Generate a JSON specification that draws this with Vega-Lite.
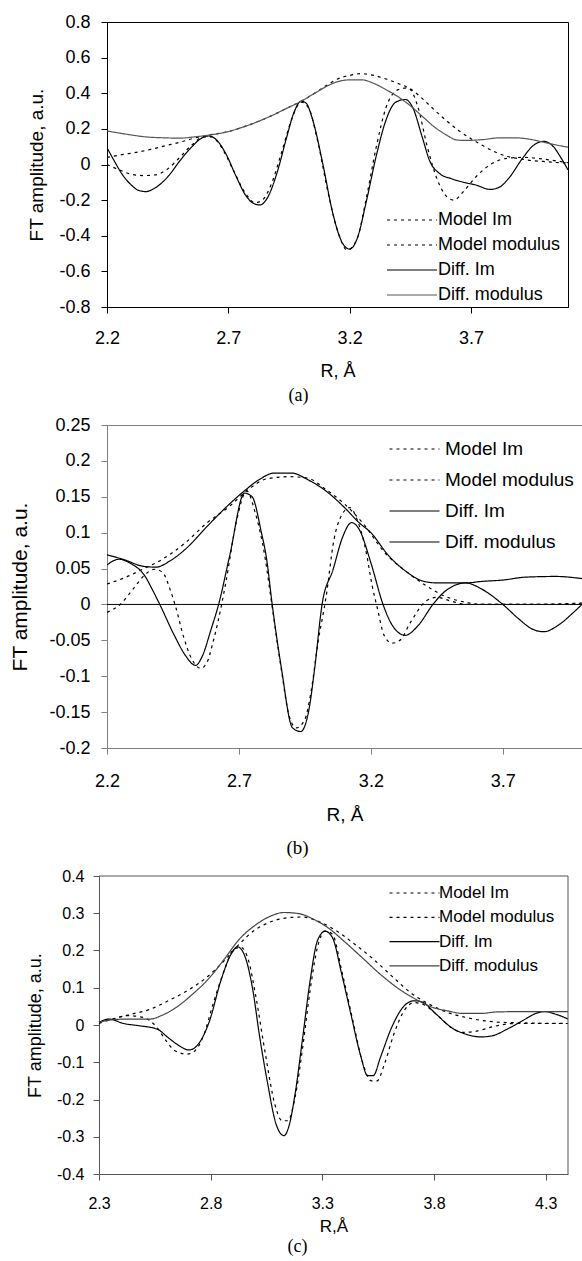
{
"$schema": "https://vega.github.io/schema/vega-lite/v6.json",
"padding": {"left": 9, "top": 12, "right": 0, "bottom": 0},
"spacing": 9,
"resolve": {"scale": {"color": "independent", "strokeDash": "independent"}, "legend": {"color": "independent", "strokeDash": "independent"}},
"config": {
  "font": "Liberation Sans",
  "axis": {"grid": false, "labelFont": "Liberation Sans", "titleFont": "Liberation Sans", "labelColor": "#000", "titleColor": "#000", "titleFontWeight": "normal", "tickColor": "#000", "domainColor": "#000", "tickSize": 6, "labelFlush": false, "labelOverlap": false}
},
"vconcat": [
{
  "width": 461, "height": 285,
  "view": {"stroke": "#000"},
  "title": {"text": "(a)", "orient": "bottom", "font": "Liberation Serif", "fontSize": 18, "fontWeight": "normal", "color": "#000", "anchor": "middle", "offset": 7, "dx": -39},
  "data": {"values": [
    {"r":2.20,"v":0.0,"s":"Model Im"},{"r":2.25,"v":-0.03,"s":"Model Im"},{"r":2.30,"v":-0.055,"s":"Model Im"},{"r":2.35,"v":-0.062,"s":"Model Im"},{"r":2.40,"v":-0.058,"s":"Model Im"},{"r":2.45,"v":-0.025,"s":"Model Im"},{"r":2.50,"v":0.04,"s":"Model Im"},{"r":2.55,"v":0.11,"s":"Model Im"},{"r":2.60,"v":0.155,"s":"Model Im"},{"r":2.63,"v":0.155,"s":"Model Im"},{"r":2.67,"v":0.1,"s":"Model Im"},{"r":2.72,"v":-0.03,"s":"Model Im"},{"r":2.77,"v":-0.16,"s":"Model Im"},{"r":2.81,"v":-0.215,"s":"Model Im"},{"r":2.84,"v":-0.2,"s":"Model Im"},{"r":2.88,"v":-0.1,"s":"Model Im"},{"r":2.92,"v":0.07,"s":"Model Im"},{"r":2.96,"v":0.25,"s":"Model Im"},{"r":3.00,"v":0.35,"s":"Model Im"},{"r":3.03,"v":0.32,"s":"Model Im"},{"r":3.07,"v":0.12,"s":"Model Im"},{"r":3.11,"v":-0.15,"s":"Model Im"},{"r":3.15,"v":-0.37,"s":"Model Im"},{"r":3.19,"v":-0.48,"s":"Model Im"},{"r":3.23,"v":-0.42,"s":"Model Im"},{"r":3.27,"v":-0.18,"s":"Model Im"},{"r":3.31,"v":0.1,"s":"Model Im"},{"r":3.35,"v":0.32,"s":"Model Im"},{"r":3.40,"v":0.42,"s":"Model Im"},{"r":3.44,"v":0.43,"s":"Model Im"},{"r":3.48,"v":0.33,"s":"Model Im"},{"r":3.52,"v":0.1,"s":"Model Im"},{"r":3.56,"v":-0.08,"s":"Model Im"},{"r":3.60,"v":-0.18,"s":"Model Im"},{"r":3.63,"v":-0.2,"s":"Model Im"},{"r":3.67,"v":-0.15,"s":"Model Im"},{"r":3.72,"v":-0.07,"s":"Model Im"},{"r":3.78,"v":0.0,"s":"Model Im"},{"r":3.85,"v":0.035,"s":"Model Im"},{"r":3.92,"v":0.04,"s":"Model Im"},{"r":4.00,"v":0.03,"s":"Model Im"},{"r":4.10,"v":0.01,"s":"Model Im"},
    {"r":2.20,"v":0.04,"s":"Model modulus"},{"r":2.26,"v":0.055,"s":"Model modulus"},{"r":2.32,"v":0.068,"s":"Model modulus"},{"r":2.38,"v":0.085,"s":"Model modulus"},{"r":2.44,"v":0.105,"s":"Model modulus"},{"r":2.50,"v":0.125,"s":"Model modulus"},{"r":2.56,"v":0.148,"s":"Model modulus"},{"r":2.62,"v":0.165,"s":"Model modulus"},{"r":2.70,"v":0.185,"s":"Model modulus"},{"r":2.76,"v":0.21,"s":"Model modulus"},{"r":2.82,"v":0.24,"s":"Model modulus"},{"r":2.88,"v":0.275,"s":"Model modulus"},{"r":2.94,"v":0.315,"s":"Model modulus"},{"r":3.00,"v":0.355,"s":"Model modulus"},{"r":3.05,"v":0.395,"s":"Model modulus"},{"r":3.10,"v":0.44,"s":"Model modulus"},{"r":3.15,"v":0.48,"s":"Model modulus"},{"r":3.20,"v":0.5,"s":"Model modulus"},{"r":3.25,"v":0.51,"s":"Model modulus"},{"r":3.30,"v":0.5,"s":"Model modulus"},{"r":3.35,"v":0.48,"s":"Model modulus"},{"r":3.40,"v":0.455,"s":"Model modulus"},{"r":3.45,"v":0.425,"s":"Model modulus"},{"r":3.50,"v":0.37,"s":"Model modulus"},{"r":3.55,"v":0.305,"s":"Model modulus"},{"r":3.60,"v":0.245,"s":"Model modulus"},{"r":3.65,"v":0.19,"s":"Model modulus"},{"r":3.70,"v":0.145,"s":"Model modulus"},{"r":3.75,"v":0.105,"s":"Model modulus"},{"r":3.80,"v":0.07,"s":"Model modulus"},{"r":3.85,"v":0.045,"s":"Model modulus"},{"r":3.90,"v":0.032,"s":"Model modulus"},{"r":3.95,"v":0.022,"s":"Model modulus"},{"r":4.00,"v":0.017,"s":"Model modulus"},{"r":4.05,"v":0.012,"s":"Model modulus"},{"r":4.10,"v":0.008,"s":"Model modulus"},
    {"r":2.20,"v":0.094,"s":"Diff. Im"},{"r":2.23,"v":0.02,"s":"Diff. Im"},{"r":2.26,"v":-0.05,"s":"Diff. Im"},{"r":2.30,"v":-0.115,"s":"Diff. Im"},{"r":2.33,"v":-0.145,"s":"Diff. Im"},{"r":2.36,"v":-0.152,"s":"Diff. Im"},{"r":2.40,"v":-0.13,"s":"Diff. Im"},{"r":2.45,"v":-0.07,"s":"Diff. Im"},{"r":2.50,"v":0.02,"s":"Diff. Im"},{"r":2.55,"v":0.1,"s":"Diff. Im"},{"r":2.59,"v":0.148,"s":"Diff. Im"},{"r":2.62,"v":0.16,"s":"Diff. Im"},{"r":2.65,"v":0.14,"s":"Diff. Im"},{"r":2.69,"v":0.06,"s":"Diff. Im"},{"r":2.73,"v":-0.06,"s":"Diff. Im"},{"r":2.77,"v":-0.17,"s":"Diff. Im"},{"r":2.80,"v":-0.215,"s":"Diff. Im"},{"r":2.83,"v":-0.227,"s":"Diff. Im"},{"r":2.86,"v":-0.19,"s":"Diff. Im"},{"r":2.90,"v":-0.05,"s":"Diff. Im"},{"r":2.94,"v":0.15,"s":"Diff. Im"},{"r":2.97,"v":0.29,"s":"Diff. Im"},{"r":3.00,"v":0.355,"s":"Diff. Im"},{"r":3.02,"v":0.345,"s":"Diff. Im"},{"r":3.05,"v":0.24,"s":"Diff. Im"},{"r":3.09,"v":0.0,"s":"Diff. Im"},{"r":3.13,"v":-0.27,"s":"Diff. Im"},{"r":3.17,"v":-0.44,"s":"Diff. Im"},{"r":3.20,"v":-0.475,"s":"Diff. Im"},{"r":3.23,"v":-0.42,"s":"Diff. Im"},{"r":3.27,"v":-0.2,"s":"Diff. Im"},{"r":3.31,"v":0.05,"s":"Diff. Im"},{"r":3.35,"v":0.25,"s":"Diff. Im"},{"r":3.39,"v":0.35,"s":"Diff. Im"},{"r":3.43,"v":0.365,"s":"Diff. Im"},{"r":3.46,"v":0.32,"s":"Diff. Im"},{"r":3.50,"v":0.15,"s":"Diff. Im"},{"r":3.53,"v":0.02,"s":"Diff. Im"},{"r":3.57,"v":-0.05,"s":"Diff. Im"},{"r":3.62,"v":-0.08,"s":"Diff. Im"},{"r":3.67,"v":-0.1,"s":"Diff. Im"},{"r":3.72,"v":-0.115,"s":"Diff. Im"},{"r":3.78,"v":-0.14,"s":"Diff. Im"},{"r":3.82,"v":-0.125,"s":"Diff. Im"},{"r":3.86,"v":-0.07,"s":"Diff. Im"},{"r":3.91,"v":0.03,"s":"Diff. Im"},{"r":3.96,"v":0.11,"s":"Diff. Im"},{"r":4.00,"v":0.13,"s":"Diff. Im"},{"r":4.04,"v":0.1,"s":"Diff. Im"},{"r":4.07,"v":0.04,"s":"Diff. Im"},{"r":4.10,"v":-0.03,"s":"Diff. Im"},
    {"r":2.20,"v":0.188,"s":"Diff. modulus"},{"r":2.28,"v":0.17,"s":"Diff. modulus"},{"r":2.36,"v":0.155,"s":"Diff. modulus"},{"r":2.43,"v":0.15,"s":"Diff. modulus"},{"r":2.50,"v":0.148,"s":"Diff. modulus"},{"r":2.56,"v":0.155,"s":"Diff. modulus"},{"r":2.62,"v":0.165,"s":"Diff. modulus"},{"r":2.70,"v":0.185,"s":"Diff. modulus"},{"r":2.76,"v":0.21,"s":"Diff. modulus"},{"r":2.82,"v":0.24,"s":"Diff. modulus"},{"r":2.88,"v":0.275,"s":"Diff. modulus"},{"r":2.94,"v":0.315,"s":"Diff. modulus"},{"r":3.00,"v":0.355,"s":"Diff. modulus"},{"r":3.05,"v":0.395,"s":"Diff. modulus"},{"r":3.10,"v":0.435,"s":"Diff. modulus"},{"r":3.15,"v":0.465,"s":"Diff. modulus"},{"r":3.20,"v":0.475,"s":"Diff. modulus"},{"r":3.25,"v":0.475,"s":"Diff. modulus"},{"r":3.30,"v":0.455,"s":"Diff. modulus"},{"r":3.35,"v":0.42,"s":"Diff. modulus"},{"r":3.40,"v":0.38,"s":"Diff. modulus"},{"r":3.45,"v":0.33,"s":"Diff. modulus"},{"r":3.50,"v":0.27,"s":"Diff. modulus"},{"r":3.55,"v":0.21,"s":"Diff. modulus"},{"r":3.60,"v":0.165,"s":"Diff. modulus"},{"r":3.64,"v":0.138,"s":"Diff. modulus"},{"r":3.68,"v":0.135,"s":"Diff. modulus"},{"r":3.75,"v":0.14,"s":"Diff. modulus"},{"r":3.82,"v":0.15,"s":"Diff. modulus"},{"r":3.88,"v":0.15,"s":"Diff. modulus"},{"r":3.95,"v":0.14,"s":"Diff. modulus"},{"r":4.00,"v":0.125,"s":"Diff. modulus"},{"r":4.05,"v":0.11,"s":"Diff. modulus"},{"r":4.10,"v":0.097,"s":"Diff. modulus"}
  ]},
  "mark": {"type": "line", "interpolate": "monotone", "strokeWidth": 1.2, "clip": true},
  "encoding": {
    "x": {"field": "r", "type": "quantitative", "scale": {"domain": [2.2, 4.1], "nice": false, "zero": false},
          "axis": {"values": [2.2, 2.7, 3.2, 3.7], "labelExpr": "'' + datum.value", "title": "R, Å", "titleFontSize": 18, "labelFontSize": 18, "labelPadding": 16, "titlePadding": 15, "labelOverlap": false}},
    "y": {"field": "v", "type": "quantitative", "scale": {"domain": [-0.8, 0.8], "nice": false},
          "axis": {"values": [-0.8, -0.6, -0.4, -0.2, 0, 0.2, 0.4, 0.6, 0.8], "labelExpr": "'' + datum.value", "title": "FT amplitude, a.u.", "titleFontSize": 19, "labelFontSize": 18, "labelPadding": 11, "titlePadding": 12, "labelOverlap": false}},
    "strokeDash": {"field": "s", "type": "nominal", "scale": {"domain": ["Model Im", "Model modulus", "Diff. Im", "Diff. modulus"], "range": [[3, 4], [3, 4], [1, 0], [1, 0]]},
          "legend": {"title": null, "orient": "none", "legendX": 296, "legendY": 189, "symbolType": "M-5,0H5", "symbolSize": 100, "symbolStrokeWidth": 1.2, "labelFontSize": 18, "labelColor": "#000", "labelFont": "Liberation Sans", "rowPadding": 7, "labelOffset": 17, "padding": 0, "labelLimit": 300}},
    "color": {"field": "s", "type": "nominal", "scale": {"domain": ["Model Im", "Model modulus", "Diff. Im", "Diff. modulus"], "range": ["#000", "#000", "#000", "#555"]},
          "legend": {"title": null, "orient": "none", "legendX": 296, "legendY": 189, "symbolType": "M-5,0H5", "symbolSize": 100, "symbolStrokeWidth": 1.2, "labelFontSize": 18, "labelColor": "#000", "labelFont": "Liberation Sans", "rowPadding": 7, "labelOffset": 17, "padding": 0, "labelLimit": 300}}
  }
},
{
  "width": 475, "height": 323,
  "view": {"stroke": "#808080"},
  "title": {"text": "(b)", "orient": "bottom", "font": "Liberation Serif", "fontSize": 19, "fontWeight": "normal", "color": "#000", "anchor": "middle", "offset": 15, "dx": -47},
  "encoding": {
    "x": {"field": "r", "type": "quantitative", "scale": {"domain": [2.2, 4.0], "nice": false, "zero": false},
          "axis": {"values": [2.2, 2.7, 3.2, 3.7], "labelExpr": "'' + datum.value", "title": "R, Å", "titleFontSize": 19, "labelFontSize": 18, "labelPadding": 18, "titlePadding": 15, "domainColor": "#808080", "tickColor": "#808080", "labelOverlap": false}},
    "y": {"field": "v", "type": "quantitative", "scale": {"domain": [-0.2, 0.25], "nice": false},
          "axis": {"values": [-0.2, -0.15, -0.1, -0.05, 0, 0.05, 0.1, 0.15, 0.2, 0.25], "labelExpr": "'' + datum.value", "title": "FT amplitude, a.u.", "titleFontSize": 21, "labelFontSize": 18, "labelPadding": 11, "titlePadding": 18, "domainColor": "#808080", "tickColor": "#808080", "labelOverlap": false}}
  },
  "layer": [
    {"data": {"values": [
    {"r":2.20,"v":-0.011,"s":"Model Im"},{"r":2.25,"v":0.0,"s":"Model Im"},{"r":2.30,"v":0.022,"s":"Model Im"},{"r":2.34,"v":0.04,"s":"Model Im"},{"r":2.38,"v":0.049,"s":"Model Im"},{"r":2.41,"v":0.045,"s":"Model Im"},{"r":2.44,"v":0.02,"s":"Model Im"},{"r":2.46,"v":-0.003,"s":"Model Im"},{"r":2.49,"v":-0.045,"s":"Model Im"},{"r":2.52,"v":-0.075,"s":"Model Im"},{"r":2.555,"v":-0.089,"s":"Model Im"},{"r":2.58,"v":-0.08,"s":"Model Im"},{"r":2.60,"v":-0.055,"s":"Model Im"},{"r":2.62,"v":-0.025,"s":"Model Im"},{"r":2.65,"v":0.03,"s":"Model Im"},{"r":2.69,"v":0.115,"s":"Model Im"},{"r":2.73,"v":0.158,"s":"Model Im"},{"r":2.76,"v":0.13,"s":"Model Im"},{"r":2.80,"v":0.063,"s":"Model Im"},{"r":2.82,"v":0.012,"s":"Model Im"},{"r":2.86,"v":-0.089,"s":"Model Im"},{"r":2.89,"v":-0.155,"s":"Model Im"},{"r":2.917,"v":-0.172,"s":"Model Im"},{"r":2.95,"v":-0.16,"s":"Model Im"},{"r":2.973,"v":-0.122,"s":"Model Im"},{"r":3.00,"v":-0.052,"s":"Model Im"},{"r":3.03,"v":0.01,"s":"Model Im"},{"r":3.06,"v":0.09,"s":"Model Im"},{"r":3.09,"v":0.125,"s":"Model Im"},{"r":3.12,"v":0.135,"s":"Model Im"},{"r":3.15,"v":0.116,"s":"Model Im"},{"r":3.18,"v":0.077,"s":"Model Im"},{"r":3.205,"v":0.026,"s":"Model Im"},{"r":3.225,"v":-0.006,"s":"Model Im"},{"r":3.25,"v":-0.043,"s":"Model Im"},{"r":3.28,"v":-0.054,"s":"Model Im"},{"r":3.31,"v":-0.05,"s":"Model Im"},{"r":3.35,"v":-0.025,"s":"Model Im"},{"r":3.41,"v":0.005,"s":"Model Im"},{"r":3.45,"v":0.01,"s":"Model Im"},{"r":3.50,"v":0.005,"s":"Model Im"},{"r":3.56,"v":0.0,"s":"Model Im"},{"r":3.70,"v":0.0,"s":"Model Im"},{"r":3.85,"v":0.0,"s":"Model Im"},{"r":4.00,"v":0.001,"s":"Model Im"},
    {"r":2.20,"v":0.0285,"s":"Model modulus"},{"r":2.27,"v":0.0377,"s":"Model modulus"},{"r":2.34,"v":0.05,"s":"Model modulus"},{"r":2.41,"v":0.063,"s":"Model modulus"},{"r":2.497,"v":0.086,"s":"Model modulus"},{"r":2.58,"v":0.114,"s":"Model modulus"},{"r":2.665,"v":0.137,"s":"Model modulus"},{"r":2.735,"v":0.16,"s":"Model modulus"},{"r":2.805,"v":0.175,"s":"Model modulus"},{"r":2.89,"v":0.178,"s":"Model modulus"},{"r":2.96,"v":0.176,"s":"Model modulus"},{"r":3.03,"v":0.16,"s":"Model modulus"},{"r":3.10,"v":0.14,"s":"Model modulus"},{"r":3.17,"v":0.113,"s":"Model modulus"},{"r":3.253,"v":0.072,"s":"Model modulus"},{"r":3.337,"v":0.045,"s":"Model modulus"},{"r":3.41,"v":0.026,"s":"Model modulus"},{"r":3.477,"v":0.012,"s":"Model modulus"},{"r":3.56,"v":0.003,"s":"Model modulus"},{"r":3.62,"v":0.0,"s":"Model modulus"},{"r":3.80,"v":0.0,"s":"Model modulus"},{"r":4.00,"v":0.002,"s":"Model modulus"},
    {"r":2.20,"v":0.055,"s":"Diff. Im"},{"r":2.245,"v":0.063,"s":"Diff. Im"},{"r":2.29,"v":0.057,"s":"Diff. Im"},{"r":2.343,"v":0.04,"s":"Diff. Im"},{"r":2.37,"v":0.022,"s":"Diff. Im"},{"r":2.40,"v":0.0,"s":"Diff. Im"},{"r":2.455,"v":-0.043,"s":"Diff. Im"},{"r":2.497,"v":-0.071,"s":"Diff. Im"},{"r":2.536,"v":-0.085,"s":"Diff. Im"},{"r":2.56,"v":-0.073,"s":"Diff. Im"},{"r":2.595,"v":-0.034,"s":"Diff. Im"},{"r":2.623,"v":0.0,"s":"Diff. Im"},{"r":2.665,"v":0.068,"s":"Diff. Im"},{"r":2.721,"v":0.155,"s":"Diff. Im"},{"r":2.75,"v":0.15,"s":"Diff. Im"},{"r":2.784,"v":0.102,"s":"Diff. Im"},{"r":2.805,"v":0.063,"s":"Diff. Im"},{"r":2.826,"v":0.0,"s":"Diff. Im"},{"r":2.861,"v":-0.089,"s":"Diff. Im"},{"r":2.903,"v":-0.172,"s":"Diff. Im"},{"r":2.934,"v":-0.177,"s":"Diff. Im"},{"r":2.966,"v":-0.145,"s":"Diff. Im"},{"r":2.987,"v":-0.089,"s":"Diff. Im"},{"r":3.015,"v":0.0,"s":"Diff. Im"},{"r":3.057,"v":0.049,"s":"Diff. Im"},{"r":3.092,"v":0.093,"s":"Diff. Im"},{"r":3.127,"v":0.114,"s":"Diff. Im"},{"r":3.155,"v":0.105,"s":"Diff. Im"},{"r":3.20,"v":0.058,"s":"Diff. Im"},{"r":3.246,"v":0.0,"s":"Diff. Im"},{"r":3.281,"v":-0.029,"s":"Diff. Im"},{"r":3.33,"v":-0.043,"s":"Diff. Im"},{"r":3.38,"v":-0.029,"s":"Diff. Im"},{"r":3.435,"v":0.0,"s":"Diff. Im"},{"r":3.48,"v":0.018,"s":"Diff. Im"},{"r":3.56,"v":0.03,"s":"Diff. Im"},{"r":3.617,"v":0.022,"s":"Diff. Im"},{"r":3.70,"v":0.0,"s":"Diff. Im"},{"r":3.76,"v":-0.02,"s":"Diff. Im"},{"r":3.81,"v":-0.034,"s":"Diff. Im"},{"r":3.855,"v":-0.038,"s":"Diff. Im"},{"r":3.91,"v":-0.029,"s":"Diff. Im"},{"r":3.968,"v":-0.011,"s":"Diff. Im"},{"r":4.00,"v":0.0,"s":"Diff. Im"},
    {"r":2.20,"v":0.069,"s":"Diff. modulus"},{"r":2.26,"v":0.063,"s":"Diff. modulus"},{"r":2.34,"v":0.053,"s":"Diff. modulus"},{"r":2.385,"v":0.052,"s":"Diff. modulus"},{"r":2.44,"v":0.061,"s":"Diff. modulus"},{"r":2.497,"v":0.077,"s":"Diff. modulus"},{"r":2.58,"v":0.109,"s":"Diff. modulus"},{"r":2.65,"v":0.135,"s":"Diff. modulus"},{"r":2.72,"v":0.158,"s":"Diff. modulus"},{"r":2.777,"v":0.174,"s":"Diff. modulus"},{"r":2.833,"v":0.183,"s":"Diff. modulus"},{"r":2.90,"v":0.183,"s":"Diff. modulus"},{"r":2.96,"v":0.174,"s":"Diff. modulus"},{"r":3.03,"v":0.158,"s":"Diff. modulus"},{"r":3.10,"v":0.135,"s":"Diff. modulus"},{"r":3.155,"v":0.114,"s":"Diff. modulus"},{"r":3.20,"v":0.1,"s":"Diff. modulus"},{"r":3.267,"v":0.068,"s":"Diff. modulus"},{"r":3.337,"v":0.045,"s":"Diff. modulus"},{"r":3.393,"v":0.033,"s":"Diff. modulus"},{"r":3.45,"v":0.03,"s":"Diff. modulus"},{"r":3.56,"v":0.03,"s":"Diff. modulus"},{"r":3.617,"v":0.032,"s":"Diff. modulus"},{"r":3.70,"v":0.034,"s":"Diff. modulus"},{"r":3.785,"v":0.038,"s":"Diff. modulus"},{"r":3.90,"v":0.039,"s":"Diff. modulus"},{"r":4.00,"v":0.036,"s":"Diff. modulus"}
    ]},
     "mark": {"type": "line", "interpolate": "monotone", "strokeWidth": 1.2, "clip": true},
     "encoding": {
      "strokeDash": {"field": "s", "type": "nominal", "scale": {"domain": ["Model Im", "Model modulus", "Diff. Im", "Diff. modulus"], "range": [[3, 4], [3, 4], [1, 0], [1, 0]]},
            "legend": {"title": null, "orient": "none", "legendX": 298, "legendY": 14.5, "symbolType": "M-5,0H5", "symbolSize": 100, "symbolStrokeWidth": 1.2, "labelFontSize": 19, "labelColor": "#000", "labelFont": "Liberation Sans", "rowPadding": 11, "labelOffset": 21, "padding": 0, "labelLimit": 300}},
      "color": {"field": "s", "type": "nominal", "scale": {"domain": ["Model Im", "Model modulus", "Diff. Im", "Diff. modulus"], "range": ["#000", "#000", "#000", "#000"]},
            "legend": {"title": null, "orient": "none", "legendX": 298, "legendY": 14.5, "symbolType": "M-5,0H5", "symbolSize": 100, "symbolStrokeWidth": 1.2, "labelFontSize": 19, "labelColor": "#000", "labelFont": "Liberation Sans", "rowPadding": 11, "labelOffset": 21, "padding": 0, "labelLimit": 300}}
     }},
    {"data": {"values": [{"r": 2.2, "r2": 4.0, "v": 0}]}, "mark": {"type": "rule", "color": "#000", "strokeWidth": 1}, "encoding": {"x2": {"field": "r2"}}}
  ]
},
{
  "width": 461, "height": 298,
  "view": {"stroke": null},
  "title": {"text": "(c)", "orient": "bottom", "font": "Liberation Serif", "fontSize": 18, "fontWeight": "normal", "color": "#000", "anchor": "middle", "offset": 4, "dx": -40},
  "encoding": {
    "x": {"field": "r", "type": "quantitative", "scale": {"domain": [2.3, 4.4], "range": [-8, 461], "nice": false, "zero": false},
          "axis": {"values": [2.3, 2.8, 3.3, 3.8, 4.3], "labelExpr": "'' + datum.value", "title": "R,Å", "titleFontSize": 17, "labelFontSize": 16, "labelPadding": 15, "titlePadding": 7, "domainColor": "#555", "tickColor": "#555", "labelOverlap": false}},
    "y": {"field": "v", "type": "quantitative", "scale": {"domain": [-0.4, 0.4], "nice": false},
          "axis": {"values": [-0.4, -0.3, -0.2, -0.1, 0, 0.1, 0.2, 0.3, 0.4], "labelExpr": "'' + datum.value", "title": "FT amplitude, a.u.", "titleFontSize": 18, "labelFontSize": 16, "labelPadding": 9, "titlePadding": 12, "offset": 8, "domainColor": "#555", "tickColor": "#555", "labelOverlap": false}}
  },
  "layer": [
    {"data": {"values": [
    {"r":2.30,"v":0.007,"s":"Model Im"},{"r":2.36,"v":0.016,"s":"Model Im"},{"r":2.43,"v":0.025,"s":"Model Im"},{"r":2.50,"v":0.02,"s":"Model Im"},{"r":2.56,"v":-0.007,"s":"Model Im"},{"r":2.60,"v":-0.042,"s":"Model Im"},{"r":2.64,"v":-0.069,"s":"Model Im"},{"r":2.695,"v":-0.078,"s":"Model Im"},{"r":2.73,"v":-0.069,"s":"Model Im"},{"r":2.77,"v":-0.025,"s":"Model Im"},{"r":2.81,"v":0.055,"s":"Model Im"},{"r":2.86,"v":0.145,"s":"Model Im"},{"r":2.903,"v":0.203,"s":"Model Im"},{"r":2.937,"v":0.208,"s":"Model Im"},{"r":2.97,"v":0.172,"s":"Model Im"},{"r":3.003,"v":0.074,"s":"Model Im"},{"r":3.045,"v":-0.078,"s":"Model Im"},{"r":3.087,"v":-0.212,"s":"Model Im"},{"r":3.12,"v":-0.257,"s":"Model Im"},{"r":3.145,"v":-0.257,"s":"Model Im"},{"r":3.178,"v":-0.194,"s":"Model Im"},{"r":3.212,"v":-0.06,"s":"Model Im"},{"r":3.245,"v":0.092,"s":"Model Im"},{"r":3.278,"v":0.208,"s":"Model Im"},{"r":3.312,"v":0.252,"s":"Model Im"},{"r":3.345,"v":0.244,"s":"Model Im"},{"r":3.387,"v":0.145,"s":"Model Im"},{"r":3.437,"v":0.011,"s":"Model Im"},{"r":3.478,"v":-0.096,"s":"Model Im"},{"r":3.52,"v":-0.15,"s":"Model Im"},{"r":3.545,"v":-0.15,"s":"Model Im"},{"r":3.578,"v":-0.105,"s":"Model Im"},{"r":3.62,"v":-0.025,"s":"Model Im"},{"r":3.67,"v":0.042,"s":"Model Im"},{"r":3.71,"v":0.06,"s":"Model Im"},{"r":3.75,"v":0.056,"s":"Model Im"},{"r":3.81,"v":0.029,"s":"Model Im"},{"r":3.878,"v":-0.007,"s":"Model Im"},{"r":3.928,"v":-0.02,"s":"Model Im"},{"r":3.995,"v":-0.016,"s":"Model Im"},{"r":4.06,"v":-0.005,"s":"Model Im"},{"r":4.16,"v":0.004,"s":"Model Im"},{"r":4.40,"v":0.004,"s":"Model Im"},
    {"r":2.30,"v":0.004,"s":"Model modulus"},{"r":2.36,"v":0.016,"s":"Model modulus"},{"r":2.445,"v":0.029,"s":"Model modulus"},{"r":2.528,"v":0.042,"s":"Model modulus"},{"r":2.61,"v":0.065,"s":"Model modulus"},{"r":2.695,"v":0.092,"s":"Model modulus"},{"r":2.78,"v":0.127,"s":"Model modulus"},{"r":2.86,"v":0.172,"s":"Model modulus"},{"r":2.928,"v":0.217,"s":"Model modulus"},{"r":2.995,"v":0.254,"s":"Model modulus"},{"r":3.06,"v":0.275,"s":"Model modulus"},{"r":3.145,"v":0.288,"s":"Model modulus"},{"r":3.21,"v":0.29,"s":"Model modulus"},{"r":3.295,"v":0.275,"s":"Model modulus"},{"r":3.36,"v":0.254,"s":"Model modulus"},{"r":3.445,"v":0.217,"s":"Model modulus"},{"r":3.528,"v":0.177,"s":"Model modulus"},{"r":3.61,"v":0.132,"s":"Model modulus"},{"r":3.695,"v":0.087,"s":"Model modulus"},{"r":3.778,"v":0.056,"s":"Model modulus"},{"r":3.86,"v":0.034,"s":"Model modulus"},{"r":3.945,"v":0.02,"s":"Model modulus"},{"r":4.03,"v":0.011,"s":"Model modulus"},{"r":4.11,"v":0.007,"s":"Model modulus"},{"r":4.40,"v":0.004,"s":"Model modulus"},
    {"r":2.30,"v":0.007,"s":"Diff. Im"},{"r":2.345,"v":0.016,"s":"Diff. Im"},{"r":2.41,"v":0.004,"s":"Diff. Im"},{"r":2.48,"v":-0.002,"s":"Diff. Im"},{"r":2.56,"v":-0.011,"s":"Diff. Im"},{"r":2.61,"v":-0.034,"s":"Diff. Im"},{"r":2.66,"v":-0.056,"s":"Diff. Im"},{"r":2.703,"v":-0.067,"s":"Diff. Im"},{"r":2.745,"v":-0.051,"s":"Diff. Im"},{"r":2.795,"v":0.011,"s":"Diff. Im"},{"r":2.845,"v":0.118,"s":"Diff. Im"},{"r":2.887,"v":0.185,"s":"Diff. Im"},{"r":2.92,"v":0.21,"s":"Diff. Im"},{"r":2.953,"v":0.185,"s":"Diff. Im"},{"r":2.987,"v":0.1,"s":"Diff. Im"},{"r":3.02,"v":-0.034,"s":"Diff. Im"},{"r":3.053,"v":-0.15,"s":"Diff. Im"},{"r":3.095,"v":-0.27,"s":"Diff. Im"},{"r":3.128,"v":-0.297,"s":"Diff. Im"},{"r":3.153,"v":-0.266,"s":"Diff. Im"},{"r":3.178,"v":-0.185,"s":"Diff. Im"},{"r":3.212,"v":-0.034,"s":"Diff. Im"},{"r":3.245,"v":0.118,"s":"Diff. Im"},{"r":3.278,"v":0.226,"s":"Diff. Im"},{"r":3.312,"v":0.252,"s":"Diff. Im"},{"r":3.345,"v":0.235,"s":"Diff. Im"},{"r":3.387,"v":0.136,"s":"Diff. Im"},{"r":3.428,"v":0.029,"s":"Diff. Im"},{"r":3.47,"v":-0.079,"s":"Diff. Im"},{"r":3.503,"v":-0.136,"s":"Diff. Im"},{"r":3.528,"v":-0.136,"s":"Diff. Im"},{"r":3.56,"v":-0.087,"s":"Diff. Im"},{"r":3.61,"v":-0.007,"s":"Diff. Im"},{"r":3.66,"v":0.047,"s":"Diff. Im"},{"r":3.71,"v":0.065,"s":"Diff. Im"},{"r":3.745,"v":0.062,"s":"Diff. Im"},{"r":3.81,"v":0.029,"s":"Diff. Im"},{"r":3.878,"v":-0.007,"s":"Diff. Im"},{"r":3.945,"v":-0.025,"s":"Diff. Im"},{"r":4.01,"v":-0.032,"s":"Diff. Im"},{"r":4.06,"v":-0.029,"s":"Diff. Im"},{"r":4.128,"v":-0.011,"s":"Diff. Im"},{"r":4.195,"v":0.011,"s":"Diff. Im"},{"r":4.26,"v":0.032,"s":"Diff. Im"},{"r":4.295,"v":0.036,"s":"Diff. Im"},{"r":4.345,"v":0.029,"s":"Diff. Im"},{"r":4.40,"v":0.016,"s":"Diff. Im"},
    {"r":2.30,"v":0.007,"s":"Diff. modulus"},{"r":2.345,"v":0.013,"s":"Diff. modulus"},{"r":2.43,"v":0.016,"s":"Diff. modulus"},{"r":2.53,"v":0.016,"s":"Diff. modulus"},{"r":2.578,"v":0.025,"s":"Diff. modulus"},{"r":2.645,"v":0.047,"s":"Diff. modulus"},{"r":2.71,"v":0.078,"s":"Diff. modulus"},{"r":2.795,"v":0.127,"s":"Diff. modulus"},{"r":2.86,"v":0.176,"s":"Diff. modulus"},{"r":2.928,"v":0.23,"s":"Diff. modulus"},{"r":2.995,"v":0.266,"s":"Diff. modulus"},{"r":3.06,"v":0.29,"s":"Diff. modulus"},{"r":3.128,"v":0.302,"s":"Diff. modulus"},{"r":3.195,"v":0.299,"s":"Diff. modulus"},{"r":3.26,"v":0.284,"s":"Diff. modulus"},{"r":3.328,"v":0.26,"s":"Diff. modulus"},{"r":3.395,"v":0.226,"s":"Diff. modulus"},{"r":3.478,"v":0.181,"s":"Diff. modulus"},{"r":3.56,"v":0.136,"s":"Diff. modulus"},{"r":3.645,"v":0.096,"s":"Diff. modulus"},{"r":3.728,"v":0.066,"s":"Diff. modulus"},{"r":3.795,"v":0.047,"s":"Diff. modulus"},{"r":3.86,"v":0.038,"s":"Diff. modulus"},{"r":3.93,"v":0.031,"s":"Diff. modulus"},{"r":4.01,"v":0.031,"s":"Diff. modulus"},{"r":4.08,"v":0.035,"s":"Diff. modulus"},{"r":4.20,"v":0.036,"s":"Diff. modulus"},{"r":4.40,"v":0.036,"s":"Diff. modulus"}
    ]},
     "mark": {"type": "line", "interpolate": "monotone", "strokeWidth": 1.2, "clip": false},
     "encoding": {
      "strokeDash": {"field": "s", "type": "nominal", "scale": {"domain": ["Model Im", "Model modulus", "Diff. Im", "Diff. modulus"], "range": [[3, 4], [3, 4], [1, 0], [1, 0]]},
            "legend": {"title": null, "orient": "none", "legendX": 299, "legendY": 8.5, "symbolType": "M-5,0H5", "symbolSize": 100, "symbolStrokeWidth": 1.2, "labelFontSize": 17, "labelColor": "#000", "labelFont": "Liberation Sans", "rowPadding": 6.3, "labelOffset": 16, "padding": 0, "labelLimit": 300}},
      "color": {"field": "s", "type": "nominal", "scale": {"domain": ["Model Im", "Model modulus", "Diff. Im", "Diff. modulus"], "range": ["#000", "#000", "#000", "#444"]},
            "legend": {"title": null, "orient": "none", "legendX": 299, "legendY": 8.5, "symbolType": "M-5,0H5", "symbolSize": 100, "symbolStrokeWidth": 1.2, "labelFontSize": 17, "labelColor": "#000", "labelFont": "Liberation Sans", "rowPadding": 6.3, "labelOffset": 16, "padding": 0, "labelLimit": 300}}
     }},
    {"data": {"values": [{"r": 2.3, "r2": 4.4, "v": 0.4}]}, "mark": {"type": "rule", "color": "#555", "strokeWidth": 1}, "encoding": {"x2": {"field": "r2"}}},
    {"data": {"values": [{"r": 4.4, "v": -0.4, "v2": 0.4}]}, "mark": {"type": "rule", "color": "#555", "strokeWidth": 1}, "encoding": {"y2": {"field": "v2"}}}
  ]
}
]
}
